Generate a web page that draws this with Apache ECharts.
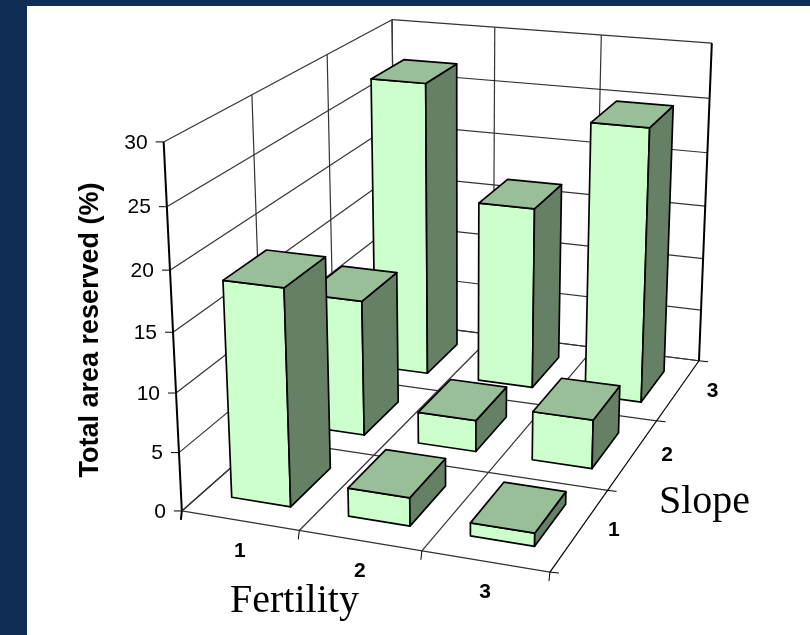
<!DOCTYPE html>
<html>
<head>
<meta charset="utf-8">
<style>
  html, body { margin: 0; padding: 0; background: #0f2d55; }
  #main { width: 810px; height: 635px; }
</style>
</head>
<body>
<div id="main"></div>
<script src="https://cdn.jsdelivr.net/npm/echarts@6/dist/echarts.min.js"></script>
<script>
// chart data
var fertility = ['1', '2', '3'];
var slope = ['1', '2', '3'];
var valueTicks = [0, 5, 10, 15, 20, 25, 30];
// one row per slope, one column per fertility
var reservedSlope1 = [18.3, 2.4, 1.1];
var reservedSlope2 = [12.1, 2.8, 4.3];
var reservedSlope3 = [27.2, 16.8, 25];
var reserved = [reservedSlope1, reservedSlope2, reservedSlope3];

// camera calibration: cube corners and ticks as [fertility, slope, value, px, py]
var anchors = [
  [0, 0, 0, 182, 511], [0, 0, 5, 179, 453], [0, 0, 10, 176, 393], [0, 0, 15, 173, 332],
  [0, 0, 20, 171, 269], [0, 0, 25, 167, 207], [0, 0, 30, 163, 142],
  [0, 1, 30, 252, 95], [0, 2, 30, 327, 54], [0, 3, 30, 392, 20],
  [1, 3, 30, 494, 27], [2, 3, 30, 602, 35], [3, 3, 30, 712, 43],
  [3, 3, 25, 710, 99], [3, 3, 20, 707, 153], [3, 3, 15, 705, 206],
  [3, 3, 10, 703, 258], [3, 3, 5, 701, 311], [3, 3, 0, 699, 360],
  [3, 2, 0, 657, 421], [3, 1, 0, 608, 490], [3, 0, 0, 549, 572],
  [2, 0, 0, 422, 551], [1, 0, 0, 299, 531]
];

// least squares fit of the 3x4 projection matrix
function fitCamera(points) {
  var rows = [];
  points.forEach(function (p) {
    var f = p[0], s = p[1], v = p[2] / 10, x = p[3] / 100, y = p[4] / 100;
    rows.push([f, s, v, 1, 0, 0, 0, 0, -x * f, -x * s, -x * v, x]);
    rows.push([0, 0, 0, 0, f, s, v, 1, -y * f, -y * s, -y * v, y]);
  });
  var n = 11, a = [];
  for (var i = 0; i < n; i++) {
    a.push([]);
    for (var j = 0; j <= n; j++) {
      var sum = 0;
      rows.forEach(function (r) { sum += r[i] * r[j]; });
      a[i].push(sum);
    }
  }
  for (var c = 0; c < n; c++) {
    var best = c;
    for (var k = c + 1; k < n; k++) if (Math.abs(a[k][c]) > Math.abs(a[best][c])) best = k;
    var tmp = a[c]; a[c] = a[best]; a[best] = tmp;
    for (var m = 0; m < n; m++) {
      if (m === c) continue;
      var q = a[m][c] / a[c][c];
      for (var w = c; w <= n; w++) a[m][w] -= q * a[c][w];
    }
  }
  return a.map(function (r, idx) { return r[n] / r[idx]; });
}
var cam = fitCamera(anchors);

function project(f, s, v) {
  var z = v / 10;
  var d = cam[8] * f + cam[9] * s + cam[10] * z + 1;
  return [
    100 * (cam[0] * f + cam[1] * s + cam[2] * z + cam[3]) / d,
    100 * (cam[4] * f + cam[5] * s + cam[6] * z + cam[7]) / d
  ];
}

var GRID_COLOR = '#333';
var AXIS_COLOR = '#000';
var BAR_F = [0.255, 0.765];
var BAR_S = [0.24, 0.76];

function line(a, b, color, width) {
  return {
    type: 'line',
    shape: { x1: a[0], y1: a[1], x2: b[0], y2: b[1] },
    style: { stroke: color, lineWidth: width }
  };
}

function label(text, x, y, font, align) {
  return {
    type: 'text',
    style: { text: text, x: x, y: y, font: font, fill: '#000', align: align, verticalAlign: 'middle' }
  };
}

function renderFrame() {
  var kids = [];
  var top = valueTicks[valueTicks.length - 1];
  var nF = fertility.length, nS = slope.length;

  valueTicks.forEach(function (v) {
    kids.push(line(project(0, 0, v), project(0, nS, v), GRID_COLOR, 1.2));
    kids.push(line(project(0, nS, v), project(nF, nS, v), GRID_COLOR, 1.2));
    var p = project(0, 0, v);
    kids.push(line([p[0] - 8, p[1]], p, AXIS_COLOR, 1));
    kids.push(label(String(v), p[0] - 16, p[1] + 1, '21px "Liberation Sans"', 'right'));
  });
  for (var s = 0; s <= nS; s++) {
    kids.push(line(project(0, s, 0), project(0, s, top), s === 0 ? AXIS_COLOR : GRID_COLOR, s === 0 ? 2 : 1.2));
    kids.push(line(project(0, s, 0), project(nF, s, 0), GRID_COLOR, 1.2));
    var q = project(nF, s, 0);
    kids.push(line(q, [q[0] + 9, q[1] + 1], AXIS_COLOR, 1));
  }
  for (var f = 0; f <= nF; f++) {
    kids.push(line(project(f, nS, 0), project(f, nS, top), f === nF ? AXIS_COLOR : GRID_COLOR, f === nF ? 2 : 1.2));
    kids.push(line(project(f, 0, 0), project(f, nS, 0), f === nF ? AXIS_COLOR : GRID_COLOR, 1.2));
    var t = project(f, 0, 0);
    kids.push(line(t, [t[0] - 1, t[1] + 9], AXIS_COLOR, f === 0 ? 2 : 1));
  }
  fertility.forEach(function (name, i) {
    var p = project(i + 0.5, 0, 0);
    kids.push(label(name, p[0], p[1] + 31, 'bold 21px "Liberation Sans"', 'center'));
  });
  slope.forEach(function (name, i) {
    var p = project(nF, i + 0.5, 0);
    kids.push(label(name, p[0] + 34, p[1] + 1, 'bold 21px "Liberation Sans"', 'center'));
  });
  return { type: 'group', children: kids };
}

function face(points, color) {
  return {
    type: 'polygon',
    shape: { points: points },
    style: { fill: color, stroke: '#000', lineWidth: 1.7, lineJoin: 'round' }
  };
}

function renderBar(params, api) {
  var fi = api.value(0), si = api.value(1), v = api.value(2);
  var f0 = fi + BAR_F[0], f1 = fi + BAR_F[1];
  var s0 = si + BAR_S[0], s1 = si + BAR_S[1];
  return {
    type: 'group',
    children: [
      face([project(f0, s0, 0), project(f1, s0, 0), project(f1, s0, v), project(f0, s0, v)], '#ccffcc'),
      face([project(f1, s0, 0), project(f1, s1, 0), project(f1, s1, v), project(f1, s0, v)], '#668066'),
      face([project(f0, s0, v), project(f1, s0, v), project(f1, s1, v), project(f0, s1, v)], '#99bf99')
    ]
  };
}

// painted back to front so nearer bars cover farther ones
var barRows = [];
for (var si = slope.length - 1; si >= 0; si--) {
  for (var fi = 0; fi < fertility.length; fi++) {
    barRows.push([fi, si, reserved[si][fi]]);
  }
}

var chart = echarts.init(document.getElementById('main'), null, { renderer: 'canvas' });
chart.setOption({
  animation: false,
  backgroundColor: '#0f2d55',
  graphic: [
    { type: 'rect', z: 0, shape: { x: 27, y: 6, width: 783, height: 629 }, style: { fill: '#fff' } },
    {
      type: 'text', z: 10, x: 91, y: 330, rotation: Math.PI / 2,
      style: { text: 'Total area reserved (%)', font: 'bold 27px "Liberation Sans"', fill: '#000', align: 'center', verticalAlign: 'middle' }
    },
    {
      type: 'text', z: 10, x: 230, y: 601,
      style: { text: 'Fertility', font: '40px "Liberation Serif"', fill: '#000', align: 'left', verticalAlign: 'middle' }
    },
    {
      type: 'text', z: 10, x: 659, y: 502,
      style: { text: 'Slope', font: '40px "Liberation Serif"', fill: '#000', align: 'left', verticalAlign: 'middle' }
    }
  ],
  series: [
    { type: 'custom', coordinateSystem: 'none', silent: true, z: 2, data: [[0]], renderItem: renderFrame },
    { type: 'custom', coordinateSystem: 'none', silent: true, z: 3, data: barRows, renderItem: renderBar }
  ]
});
</script>
</body>
</html>
